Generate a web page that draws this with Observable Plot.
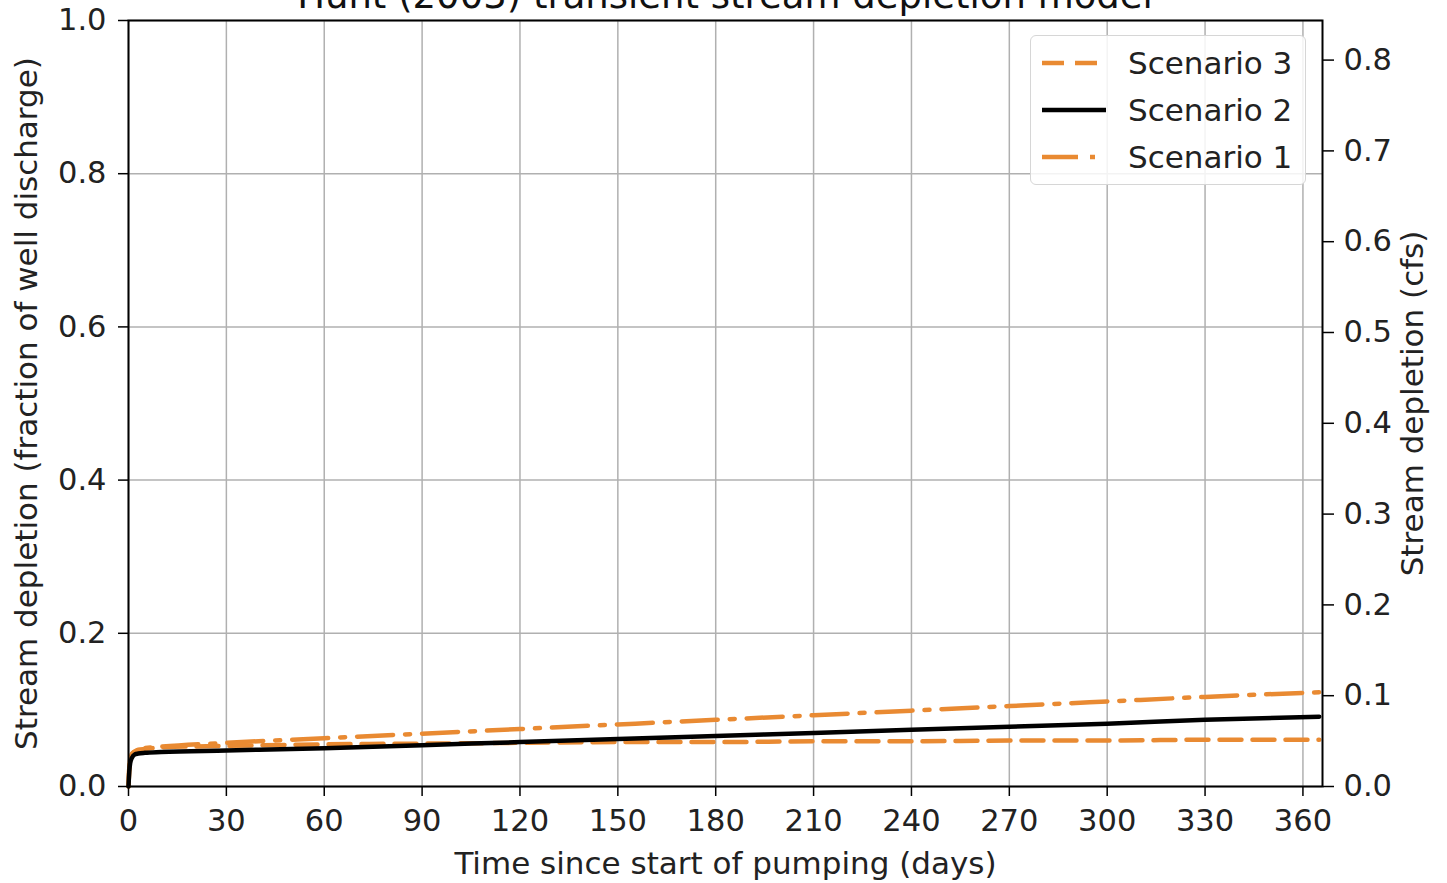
<!DOCTYPE html>
<html>
<head>
<meta charset="utf-8">
<script src="https://cdn.jsdelivr.net/npm/d3@7"></script>
<script src="https://cdn.jsdelivr.net/npm/@observablehq/plot@0.6"></script>
<style>
  html, body { margin: 0; padding: 0; background: white; overflow: hidden; }
  #wrap { position: relative; width: 1447px; height: 883px; font-family: "DejaVu Sans", sans-serif; }
  #title { position: absolute; left: 0; width: 1450px; top: -23px; line-height: 37px; text-align: center; font-size: 37px; color: #111; white-space: nowrap; }
  #legend { position: absolute; left: 1030px; top: 35px; width: 276px; height: 150px; box-sizing: border-box;
            border: 1.5px solid #d6d6d6; border-radius: 6px; background: rgba(255,255,255,0.85); }
  .row { position: absolute; left: 0; height: 40px; display: flex; align-items: center; }
  .row svg { margin-left: 10px; }
  .row span { margin-left: 21px; font-size: 31px; color: #222; }
</style>
</head>
<body>
<div id="wrap">
  <div id="chart"></div>
  <div id="title">Hunt (2003) transient stream depletion model</div>
  <div id="legend"></div>
</div>
<script>
// ---- data ----
const days = [0, 0.25, 0.5, 1, 2, 3, 5, 10, 30, 60, 90, 120, 150, 180, 210, 240, 270, 300, 330, 365];
const scenario1 = [0, 0.025, 0.035, 0.042, 0.046, 0.048, 0.050, 0.052, 0.057, 0.063, 0.069, 0.075, 0.081, 0.087, 0.093, 0.099, 0.105, 0.111, 0.117, 0.123];
const scenario2 = [0, 0.020, 0.030, 0.037, 0.042, 0.043, 0.044, 0.045, 0.047, 0.050, 0.054, 0.058, 0.062, 0.066, 0.070, 0.074, 0.078, 0.082, 0.087, 0.091];
const scenario3 = [0, 0.025, 0.035, 0.042, 0.046, 0.048, 0.049, 0.051, 0.053, 0.055, 0.056, 0.057, 0.058, 0.058, 0.059, 0.059, 0.060, 0.060, 0.061, 0.061];
const seriesNames = ["Scenario 3", "Scenario 2", "Scenario 1"];
const xTicks = [0, 30, 60, 90, 120, 150, 180, 210, 240, 270, 300, 330, 360];
const yTicks = [0, 0.2, 0.4, 0.6, 0.8, 1.0];
const cfsTicks = [0, 0.1, 0.2, 0.3, 0.4, 0.5, 0.6, 0.7, 0.8];
const cfsPerFraction = 0.8436; // well discharge in cfs
const xLabel = "Time since start of pumping (days)";
const yLabel = "Stream depletion (fraction of well discharge)";
const y2Label = "Stream depletion (cfs)";

const orange = "#e98a32";
const styles = {
  "Scenario 1": {stroke: orange, dash: "36,12,5,12"},
  "Scenario 2": {stroke: "#000000", dash: null},
  "Scenario 3": {stroke: orange, dash: "22,11"}
};
const seriesValues = {"Scenario 1": scenario1, "Scenario 2": scenario2, "Scenario 3": scenario3};
const rows = name => days.map((d, i) => ({day: d, value: seriesValues[name][i]}));

const lineMark = name => Plot.line(rows(name), {
  x: "day", y: "value", stroke: styles[name].stroke, strokeWidth: 4.5,
  strokeDasharray: styles[name].dash ?? undefined, curve: "monotone-x"
});

const FS = 30.5;   // tick labels
const LFS = 31;    // axis labels
const chart = Plot.plot({
  width: 1447, height: 883,
  marginLeft: 128, marginRight: 125, marginTop: 20, marginBottom: 97,
  style: {fontFamily: "DejaVu Sans", fontSize: FS + "px", color: "#222", background: "white"},
  x: {domain: [0, 366]},
  y: {domain: [0, 1]},
  marks: [
    Plot.gridX(xTicks, {stroke: "#b0b0b0", strokeOpacity: 1, strokeWidth: 1.5}),
    Plot.gridY(yTicks, {stroke: "#b0b0b0", strokeOpacity: 1, strokeWidth: 1.5}),
    lineMark("Scenario 3"),
    lineMark("Scenario 1"),
    lineMark("Scenario 2"),
    Plot.frame({stroke: "#000", strokeWidth: 2}),
    Plot.axisX(xTicks, {anchor: "bottom", tickSize: 10, tickPadding: 13, label: null, stroke: "#000", strokeWidth: 1.5, fontSize: FS, tickFormat: d => String(d)}),
    Plot.axisY(yTicks, {anchor: "left", tickSize: 10, tickPadding: 12, label: null, stroke: "#000", strokeWidth: 1.5, fontSize: FS, tickFormat: d => d.toFixed(1)}),
    Plot.axisY(cfsTicks, {anchor: "right", y: d => d / cfsPerFraction, text: d => d.toFixed(1), tickSize: 11, tickPadding: 10, label: null, stroke: "#000", strokeWidth: 1.5, fontSize: FS}),
    Plot.text([xLabel], {frameAnchor: "bottom", lineAnchor: "middle", textAnchor: "middle", dy: 78, fontSize: LFS, fill: "#222"}),
    Plot.text([yLabel], {frameAnchor: "left", lineAnchor: "middle", textAnchor: "middle", dx: -101, rotate: -90, fontSize: LFS, fill: "#222"}),
    Plot.text([y2Label], {frameAnchor: "right", lineAnchor: "middle", textAnchor: "middle", dx: 91, rotate: -90, fontSize: LFS, fill: "#222"})
  ]
});
document.getElementById("chart").appendChild(chart);

// legend
const legend = document.getElementById("legend");
seriesNames.forEach((name, i) => {
  const row = document.createElement("div");
  row.className = "row";
  row.style.top = (7 + i * 47) + "px";
  const st = styles[name];
  row.innerHTML = `<svg width="66" height="20"><line x1="1" y1="10" x2="65" y2="10" stroke="${st.stroke}" stroke-width="4.5" ${st.dash ? `stroke-dasharray="${st.dash}"` : ""}/></svg><span>${name}</span>`;
  legend.appendChild(row);
});
</script>
</body>
</html>
